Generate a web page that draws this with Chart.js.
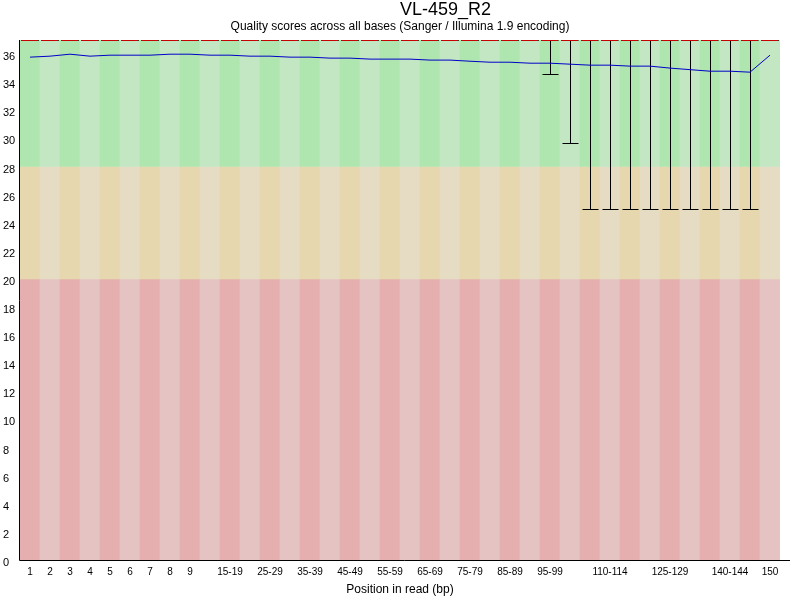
<!DOCTYPE html>
<html lang="en">
<head>
    <meta charset="UTF-8">
    <title>VL-459_R2 - per base quality</title>
    <script src="https://cdn.jsdelivr.net/npm/chart.js"></script>
    <style>
        html, body { margin: 0; padding: 0; background: #fff; }
        #qualityChart { display: block; }
    </style>
</head>
<body>
    <canvas id="qualityChart" width="800" height="600"></canvas>
    <script>
        // base positions (grouped after 9) and the ones that get a label
        const positions = ['1', '2', '3', '4', '5', '6', '7', '8', '9',
            '10-14', '15-19', '20-24', '25-29', '30-34', '35-39', '40-44', '45-49',
            '50-54', '55-59', '60-64', '65-69', '70-74', '75-79', '80-84', '85-89',
            '90-94', '95-99', '100-104', '105-109', '110-114', '115-119', '120-124',
            '125-129', '130-134', '135-139', '140-144', '145-149', '150'];
        const shownTicks = ['1', '2', '3', '4', '5', '6', '7', '8', '9', '15-19', '25-29',
            '35-39', '45-49', '55-59', '65-69', '75-79', '85-89', '95-99',
            '110-114', '125-129', '140-144', '150'];

        const meanQuality = [35.78, 35.85, 35.99, 35.85, 35.92, 35.92, 35.92, 35.99, 35.99,
            35.92, 35.92, 35.85, 35.85, 35.78, 35.78, 35.71, 35.71, 35.64, 35.64, 35.64,
            35.57, 35.57, 35.49, 35.42, 35.42, 35.35, 35.35, 35.28, 35.21, 35.21, 35.14,
            35.14, 35.00, 34.89, 34.78, 34.78, 34.71, 35.92];
        const medianQuality = [37, 37, 37, 37, 37, 37, 37, 37, 37, 37, 37, 37, 37, 37, 37, 37, 37, 37, 37,
            37, 37, 37, 37, 37, 37, 37, 37, 37, 37, 37, 37, 37, 37, 37, 37, 37, 37, 37];
        const upperWhisker = [37, 37, 37, 37, 37, 37, 37, 37, 37, 37, 37, 37, 37, 37, 37, 37, 37, 37, 37,
            37, 37, 37, 37, 37, 37, 37, 37, 37, 37, 37, 37, 37, 37, 37, 37, 37, 37, 37];
        const lowerWhisker = [37, 37, 37, 37, 37, 37, 37, 37, 37, 37, 37, 37, 37, 37, 37, 37, 37, 37, 37,
            37, 37, 37, 37, 37, 37, 37, 34.6, 29.7, 25, 25, 25, 25, 25, 25, 25, 25, 25, 37];

        const goodRange = [28, 37];
        const warnRange = [20, 28];
        const badRange = [0, 20];

        const FONT = '"Liberation Sans", Arial, sans-serif';
        Chart.defaults.font.family = FONT;
        Chart.defaults.color = '#000';

        function zoneDataset(range, dark, light) {
            return {
                type: 'bar',
                data: positions.map(() => range),
                backgroundColor: positions.map((p, i) => i % 2 === 0 ? dark : light),
                borderWidth: 0,
                barPercentage: 1,
                categoryPercentage: 1,
                grouped: false,
                order: 1
            };
        }

        // whiskers + median bars, drawn just before the mean line
        const boxPlugin = {
            id: 'boxes',
            beforeDatasetDraw(chart, args) {
                if (args.meta.type !== 'line') return;
                const ctx = chart.ctx;
                const x = chart.scales.x, y = chart.scales.y;
                ctx.save();
                ctx.lineWidth = 1;
                ctx.strokeStyle = '#000';
                positions.forEach((p, i) => {
                    const cx = Math.round(x.getPixelForValue(i)) + 0.5;
                    const top = Math.round(y.getPixelForValue(upperWhisker[i])) + 0.5;
                    const bot = Math.round(y.getPixelForValue(lowerWhisker[i])) + 0.5;
                    ctx.beginPath();
                    ctx.moveTo(cx, top);
                    ctx.lineTo(cx, bot);
                    ctx.moveTo(cx - 8, top);
                    ctx.lineTo(cx + 8, top);
                    ctx.moveTo(cx - 8, bot);
                    ctx.lineTo(cx + 8, bot);
                    ctx.stroke();
                });
                ctx.strokeStyle = 'rgb(200,0,0)';
                positions.forEach((p, i) => {
                    const cx = Math.round(x.getPixelForValue(i));
                    const my = Math.round(y.getPixelForValue(medianQuality[i])) + 0.5;
                    ctx.beginPath();
                    ctx.moveTo(cx - 9, my);
                    ctx.lineTo(cx + 8, my);
                    ctx.stroke();
                });
                ctx.restore();
            }
        };

        const framePlugin = {
            id: 'frame',
            afterDraw(chart) {
                const ctx = chart.ctx;
                const a = chart.chartArea;
                ctx.save();
                ctx.strokeStyle = '#000';
                ctx.lineWidth = 1;
                ctx.beginPath();
                ctx.moveTo(a.left - 0.5, a.top);
                ctx.lineTo(a.left - 0.5, a.bottom + 0.5);
                ctx.lineTo(790, a.bottom + 0.5);
                ctx.stroke();

                ctx.fillStyle = '#000';
                ctx.textBaseline = 'alphabetic';
                ctx.textAlign = 'left';
                ctx.font = '18px ' + FONT;
                ctx.fillText('VL-459_R2', 400, 15);
                ctx.textAlign = 'center';
                ctx.font = '12px ' + FONT;
                ctx.fillText('Quality scores across all bases (Sanger / Illumina 1.9 encoding)', 400, 30);
                ctx.restore();
            }
        };

        new Chart(document.getElementById('qualityChart'), {
            type: 'bar',
            data: {
                labels: positions,
                datasets: [
                    {
                        type: 'line',
                        label: 'Mean',
                        data: meanQuality,
                        borderColor: 'rgb(0,0,200)',
                        borderWidth: 1,
                        pointRadius: 0,
                        tension: 0,
                        fill: false,
                        order: 0
                    },
                    zoneDataset(goodRange, 'rgb(175,230,175)', 'rgb(195,230,195)'),
                    zoneDataset(warnRange, 'rgb(230,215,175)', 'rgb(230,220,195)'),
                    zoneDataset(badRange, 'rgb(230,175,175)', 'rgb(230,195,195)')
                ]
            },
            options: {
                responsive: false,
                devicePixelRatio: 1,
                animation: false,
                layout: { padding: { left: 3, right: 20, top: 40, bottom: 0 } },
                plugins: {
                    legend: { display: false },
                    tooltip: { enabled: false }
                },
                scales: {
                    x: {
                        offset: true,
                        grid: { display: false, drawTicks: false },
                        border: { display: false },
                        ticks: {
                            autoSkip: false,
                            maxRotation: 0,
                            padding: 6,
                            font: { size: 10 },
                            callback: function (value) {
                                const label = this.getLabelForValue(value);
                                return shownTicks.includes(label) ? label : '';
                            }
                        },
                        title: {
                            display: true,
                            text: 'Position in read (bp)',
                            font: { size: 12 },
                            padding: { top: 0, bottom: 3 }
                        },
                        afterFit: scale => { scale.height = 40; }
                    },
                    y: {
                        min: 0,
                        max: 37,
                        grid: { display: false, drawTicks: false },
                        border: { display: false },
                        ticks: {
                            stepSize: 2,
                            includeBounds: false,
                            crossAlign: 'far',
                            padding: 0,
                            labelOffset: 3,
                            font: { size: 11 }
                        },
                        afterFit: scale => { scale.width = 17; }
                    }
                }
            },
            plugins: [boxPlugin, framePlugin]
        });
    </script>
</body>
</html>
